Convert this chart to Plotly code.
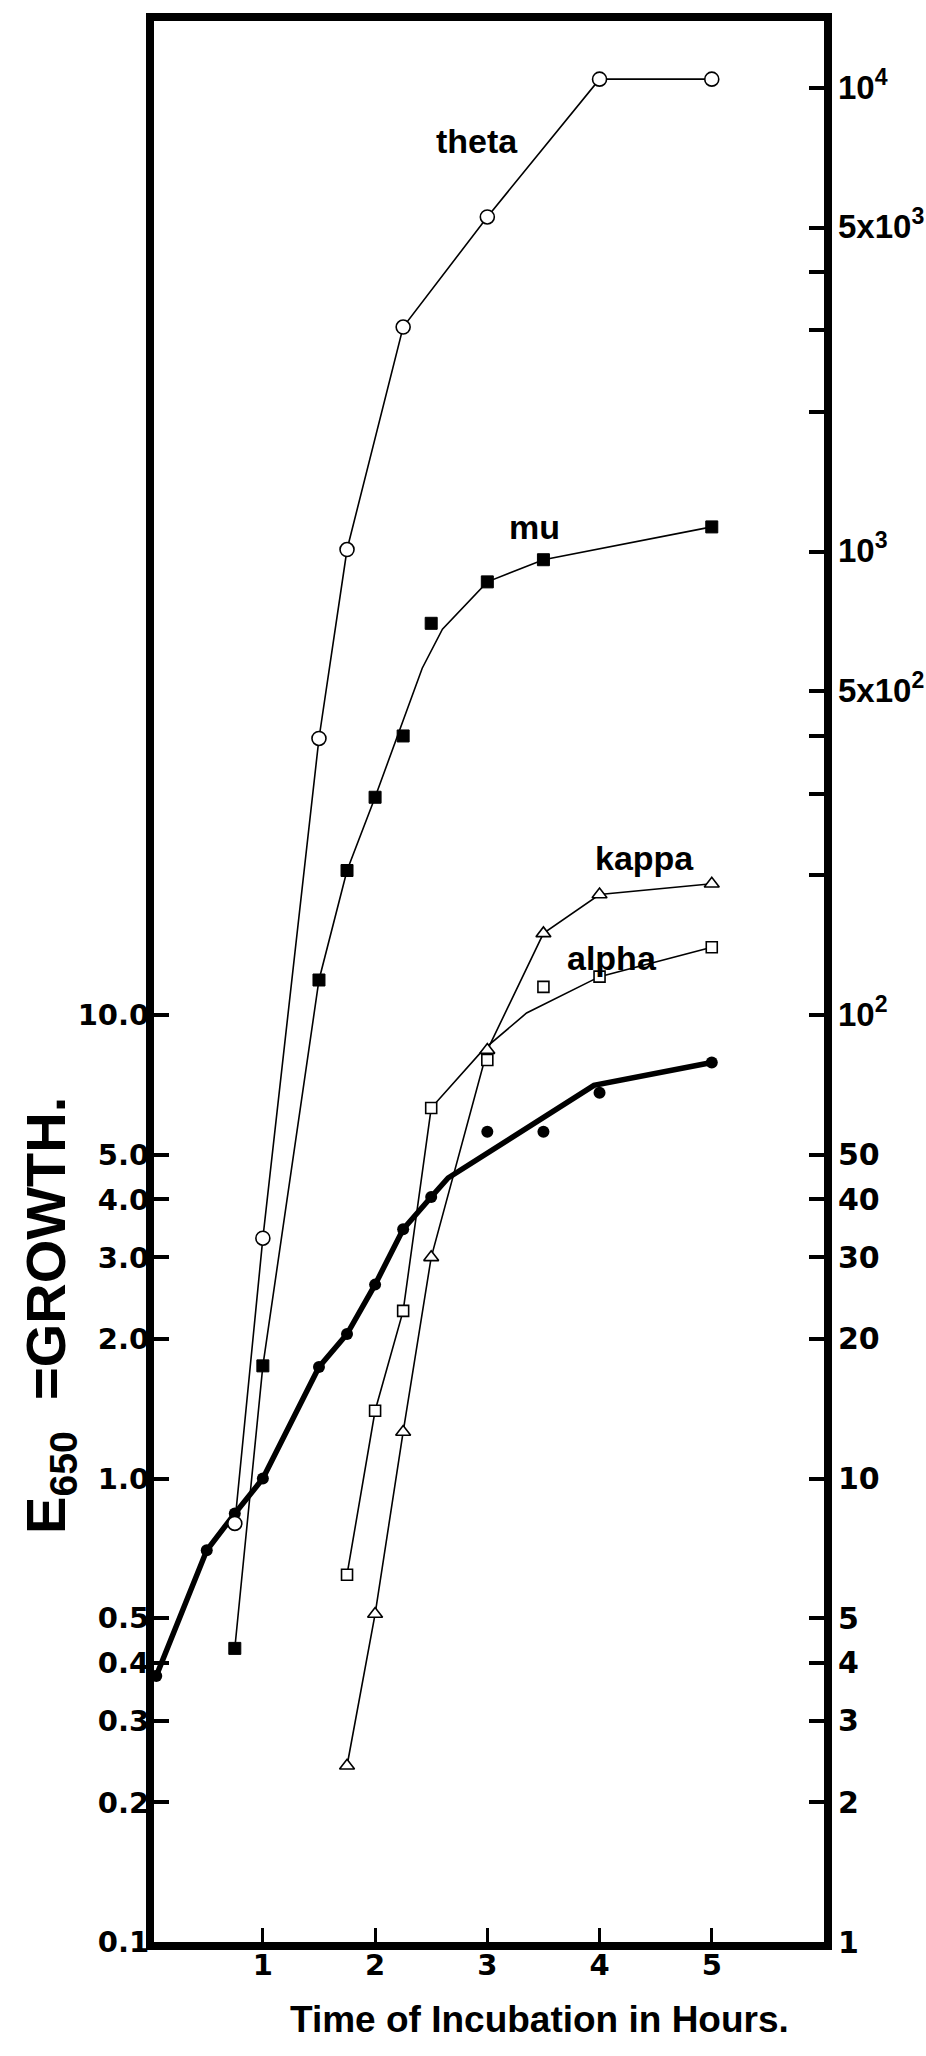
import math
import plotly.graph_objects as go

# ---------------- data ----------------
hour_ticks = [1, 2, 3, 4, 5]
hour_text = ["1", "2", "3", "4", "5"]

# Growth, E650 (left axis) - filled circles and hand-fitted thick line
growth_t = [0.05, 0.5, 0.75, 1.0, 1.5, 1.75, 2.0, 2.25, 2.5, 3.0, 3.5, 4.0, 5.0]
growth_v = [0.375, 0.70, 0.84, 1.0, 1.74, 2.05, 2.62, 3.45, 4.05, 5.6, 5.6, 6.8, 7.9]
growth_line_t = [0.05, 0.5, 0.75, 1.0, 1.5, 1.75, 2.0, 2.25, 2.5, 2.65, 3.95, 5.0]
growth_line_v = [0.375, 0.70, 0.84, 1.0, 1.74, 2.05, 2.62, 3.45, 4.05, 4.45, 7.05, 7.9]

# Phage titres (right axis)
theta_t = [0.75, 1.0, 1.5, 1.75, 2.25, 3.0, 4.0, 5.0]
theta_v = [8.0, 33, 395, 1010, 3050, 5270, 10450, 10450]

mu_t = [0.75, 1.0, 1.5, 1.75, 2.0, 2.25, 2.5, 3.0, 3.5, 5.0]
mu_v = [4.3, 17.5, 119, 205, 295, 400, 700, 860, 960, 1130]
mu_line_t = [0.75, 1.0, 1.5, 1.75, 2.0, 2.42, 2.6, 3.0, 3.5, 5.0]
mu_line_v = [4.3, 17.5, 119, 205, 295, 560, 680, 860, 960, 1130]

kappa_t = [1.75, 2.0, 2.25, 2.5, 3.0, 3.5, 4.0, 5.0]
kappa_v = [2.4, 5.1, 12.6, 30, 84, 150, 182, 192]

alpha_t = [1.75, 2.0, 2.25, 2.5, 3.0, 3.5, 4.0, 5.0]
alpha_v = [6.2, 14, 23, 63, 80, 115, 121, 140]
alpha_line_t = [1.75, 2.0, 2.25, 2.5, 2.96, 3.35, 4.0, 5.0]
alpha_line_v = [6.2, 14, 23, 63, 84, 101, 121, 140]

left_vals = [0.1, 0.2, 0.3, 0.4, 0.5, 1.0, 2.0, 3.0, 4.0, 5.0, 10.0]
left_text = ["0.1", "0.2", "0.3", "0.4", "0.5", "1.0", "2.0", "3.0", "4.0", "5.0", "10.0"]

right_vals = [1, 2, 3, 4, 5, 10, 20, 30, 40, 50, 100, 500, 1000, 5000, 10000]
right_text = ["1", "2", "3", "4", "5", "10", "20", "30", "40", "50",
              "10<sup>2</sup>", "5x10<sup>2</sup>", "10<sup>3</sup>",
              "5x10<sup>3</sup>", "10<sup>4</sup>"]
right_minor_vals = [200, 300, 400, 2000, 3000, 4000]

series_labels = ["theta", "mu", "kappa", "alpha"]

# ---------------- figure ----------------
FONT = "Liberation Sans, Arial, sans-serif"
TICKFONT = "DejaVu Sans, Verdana, sans-serif"
thin = dict(color="black", width=1.6)


def exp_label(s):
    # exponent labels set in a narrower face so they fit like the original
    if "<sup>" in s:
        return '<span style="font-family:Liberation Sans, Arial, sans-serif;font-size:33px">' + s + "</span>"
    return s


fig = go.Figure()

# thin phage lines
for lx, ly in [(theta_t, theta_v), (mu_line_t, mu_line_v), (kappa_t, kappa_v), (alpha_line_t, alpha_line_v)]:
    fig.add_trace(go.Scatter(x=lx, y=ly, mode="lines", line=thin, yaxis="y2",
                             showlegend=False, hoverinfo="skip"))

# thick growth line
fig.add_trace(go.Scatter(x=growth_line_t, y=growth_line_v, mode="lines",
                         line=dict(color="black", width=5.5), yaxis="y",
                         showlegend=False, hoverinfo="skip"))

# markers
fig.add_trace(go.Scatter(x=theta_t, y=theta_v, mode="markers", yaxis="y2", name="theta",
                         marker=dict(symbol="circle", size=14, color="white",
                                     line=dict(color="black", width=1.6))))
fig.add_trace(go.Scatter(x=mu_t, y=mu_v, mode="markers", yaxis="y2", name="mu",
                         marker=dict(symbol="square", size=12, color="black",
                                     line=dict(color="black", width=1))))
fig.add_trace(go.Scatter(x=kappa_t, y=kappa_v, mode="markers", yaxis="y2", name="kappa",
                         marker=dict(symbol="triangle-up", size=13, color="white",
                                     line=dict(color="black", width=1.6))))
fig.add_trace(go.Scatter(x=alpha_t, y=alpha_v, mode="markers", yaxis="y2", name="alpha",
                         marker=dict(symbol="square", size=11, color="white",
                                     line=dict(color="black", width=1.6))))
fig.add_trace(go.Scatter(x=growth_t, y=growth_v, mode="markers", yaxis="y", name="growth",
                         marker=dict(symbol="circle", size=12, color="black")))

tf_left = dict(family=TICKFONT, size=29, color="black", weight="bold")
tf_right = dict(family=TICKFONT, size=30, color="black", weight="bold")

fig.update_layout(
    width=926, height=2056,
    margin=dict(l=154, r=102, t=21, b=114),
    paper_bgcolor="white", plot_bgcolor="white",
    showlegend=False,
    font=dict(family=FONT, color="black"),
    xaxis=dict(range=[0.03, 6], tickmode="array", tickvals=hour_ticks, ticktext=hour_text,
               ticks="inside", ticklen=14, tickwidth=3, tickcolor="black",
               showline=True, linewidth=8, linecolor="black", mirror=True, automargin=False,
               showgrid=False, zeroline=False, tickfont=tf_left, ticklabelstandoff=-10),
    yaxis=dict(type="log", range=[-1, 3.1446], tickmode="array",
               tickvals=left_vals, ticktext=left_text, automargin=False,
               ticks="inside", ticklen=15, tickwidth=4, tickcolor="black",
               showline=True, linewidth=8, linecolor="black",
               showgrid=False, zeroline=False, tickfont=tf_left, ticklabelstandoff=-9),
    yaxis2=dict(type="log", range=[0, 4.1446], overlaying="y", side="right",
                tickmode="array", tickvals=right_vals,
                ticktext=[exp_label(s) for s in right_text], automargin=False,
                ticks="inside", ticklen=15, tickwidth=4, tickcolor="black",
                minor=dict(tickmode="array", tickvals=right_minor_vals, ticks="inside",
                           ticklen=15, tickwidth=4, tickcolor="black", showgrid=False),
                showline=True, linewidth=8, linecolor="black",
                showgrid=False, zeroline=False, tickfont=tf_right, ticklabelstandoff=0),
)

label_font = dict(family=FONT, size=34, color="black", weight="bold")
label_pos = [(2.91, 7700), (3.42, 1130), (4.4, 218), (4.11, 133)]
for txt, (lx, ly) in zip(series_labels, label_pos):
    fig.add_annotation(x=lx, y=math.log10(ly), xref="x", yref="y2", text=txt,
                       showarrow=False, font=label_font, xanchor="center", yanchor="middle")

fig.add_annotation(x=0.576, y=-0.0406, xref="paper", yref="paper",
                   xanchor="center", yanchor="middle",
                   text="Time of Incubation in Hours.", showarrow=False,
                   font=dict(family=FONT, size=37, color="black", weight="bold"))
fig.add_annotation(x=-0.155, y=0.326, xref="paper", yref="paper", textangle=-90,
                   xanchor="center", yanchor="middle",
                   text="E<sub>650</sub>&nbsp;&nbsp;=GROWTH.", showarrow=False,
                   font=dict(family=FONT, size=56, color="black", weight="bold"))

fig.write_html("out.html")
